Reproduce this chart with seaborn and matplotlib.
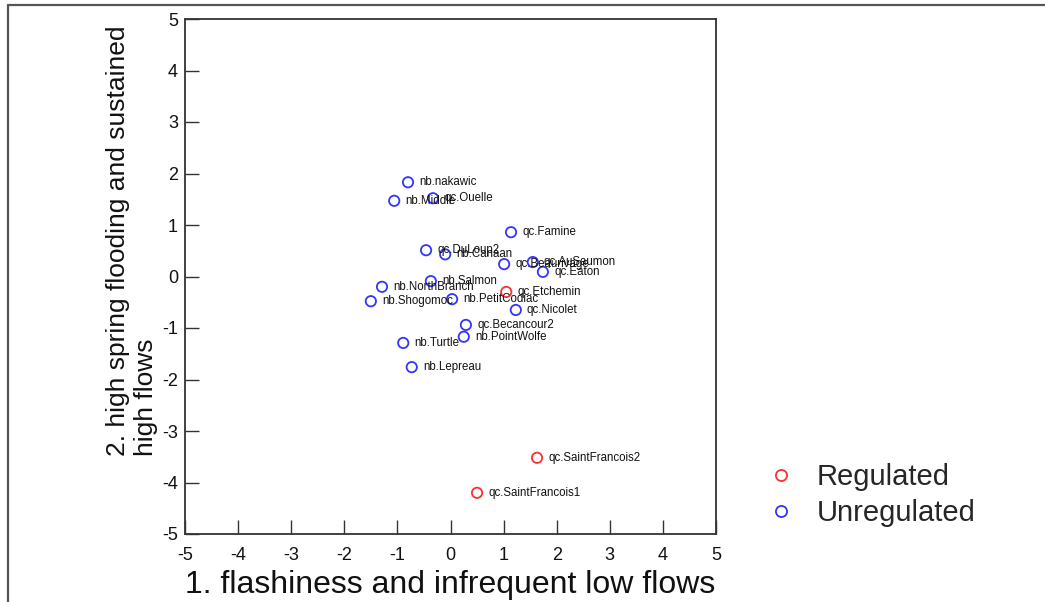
import matplotlib
matplotlib.use("Agg")
import matplotlib.pyplot as plt
from matplotlib.lines import Line2D
import seaborn as sns
import pandas as pd

# Site scores on the first two ordination axes
sites = [
    "nb.nakawic", "nb.Middle", "qc.Ouelle", "qc.Famine", "qc.DuLoup2",
    "nb.Canaan", "qc.Beaurivage", "qc.AuSaumon", "qc.Eaton", "nb.Salmon",
    "nb.NorthBranch", "nb.Shogomoc", "nb.PetitCodiac", "qc.Etchemin",
    "qc.Nicolet", "qc.Becancour2", "nb.PointWolfe", "nb.Turtle",
    "nb.Lepreau", "qc.SaintFrancois2", "qc.SaintFrancois1",
]
axis1 = [
    -0.80, -1.06, -0.33, 1.14, -0.46,
    -0.10, 1.01, 1.55, 1.74, -0.37,
    -1.29, -1.50, 0.03, 1.05,
    1.23, 0.29, 0.25, -0.89,
    -0.73, 1.63, 0.50,
]
axis2 = [
    1.83, 1.47, 1.52, 0.86, 0.51,
    0.43, 0.24, 0.28, 0.09, -0.09,
    -0.20, -0.48, -0.44, -0.30,
    -0.65, -0.94, -1.17, -1.29,
    -1.76, -3.52, -4.20,
]
status = [
    "Unregulated", "Unregulated", "Unregulated", "Unregulated", "Unregulated",
    "Unregulated", "Unregulated", "Unregulated", "Unregulated", "Unregulated",
    "Unregulated", "Unregulated", "Unregulated", "Regulated",
    "Unregulated", "Unregulated", "Unregulated", "Unregulated",
    "Unregulated", "Regulated", "Regulated",
]
groups = ["Regulated", "Unregulated"]
colors = {"Regulated": "#ff2e2e", "Unregulated": "#3434ff"}
ticks = [-5, -4, -3, -2, -1, 0, 1, 2, 3, 4, 5]

df = pd.DataFrame({"site": sites, "axis1": axis1, "axis2": axis2, "status": status})

sns.set_theme(style="white")
plt.rcParams["font.family"] = ["Liberation Sans", "DejaVu Sans"]

fig = plt.figure(figsize=(10.45, 6.02), dpi=100)
ax = fig.add_axes([185 / 1045, 68 / 602, 531 / 1045, 515 / 602])

for g in groups:
    sub = df[df["status"] == g]
    sns.scatterplot(data=sub, x="axis1", y="axis2", ax=ax, color=colors[g],
                    facecolor="none", edgecolor=colors[g], linewidth=1.3,
                    s=55, marker="o", zorder=3)

for _, r in df.iterrows():
    ax.annotate(r["site"], (r["axis1"], r["axis2"]), xytext=(8, 0),
                textcoords="offset points", va="center", ha="left",
                fontsize=8.3, color="#111111", zorder=4)

ax.set_xlim(-5, 5)
ax.set_ylim(-5, 5)
ax.set_xticks(ticks)
ax.set_yticks(ticks)
ax.set_xticklabels([str(t) for t in ticks])
ax.set_yticklabels([str(t) for t in ticks])
ax.tick_params(axis="both", direction="in", length=10, width=1.0,
               colors="#333333", labelcolor="#111111", labelsize=13,
               bottom=True, left=True, top=False, right=False)
ax.tick_params(axis="x", pad=9)
ax.tick_params(axis="y", pad=5)
for sp in ax.spines.values():
    sp.set_visible(True)
    sp.set_color("#333333")
    sp.set_linewidth(1.3)
ax.grid(False)

ax.set_xlabel("1. flashiness and infrequent low flows", fontsize=23,
              color="#111111", labelpad=5)
ax.set_ylabel("2. high spring flooding and sustained\nhigh flows", fontsize=19,
              color="#111111", multialignment="left", linespacing=1.25)
ax.yaxis.set_label_coords(-0.05, 0.57)

handles = [Line2D([], [], linestyle="none", marker="o", markersize=8,
                  markerfacecolor="none", markeredgecolor=colors[g],
                  markeredgewidth=1.3) for g in groups]
fig.legend(handles, groups, loc="center left",
           bbox_to_anchor=(766 / 1045, 1 - 495 / 602), frameon=False,
           fontsize=21, handlelength=1.0, handletextpad=0.75,
           labelspacing=0.28, borderpad=0, borderaxespad=0)

# page frame lines
fig.add_artist(Line2D([8 / 1045, 1.0], [1 - 5 / 602, 1 - 5 / 602],
                      transform=fig.transFigure, color="#555555", linewidth=1.6))
fig.add_artist(Line2D([8 / 1045, 8 / 1045], [0, 1 - 5 / 602],
                      transform=fig.transFigure, color="#555555", linewidth=1.6))

fig.savefig("out.png", dpi=100, facecolor="white")
